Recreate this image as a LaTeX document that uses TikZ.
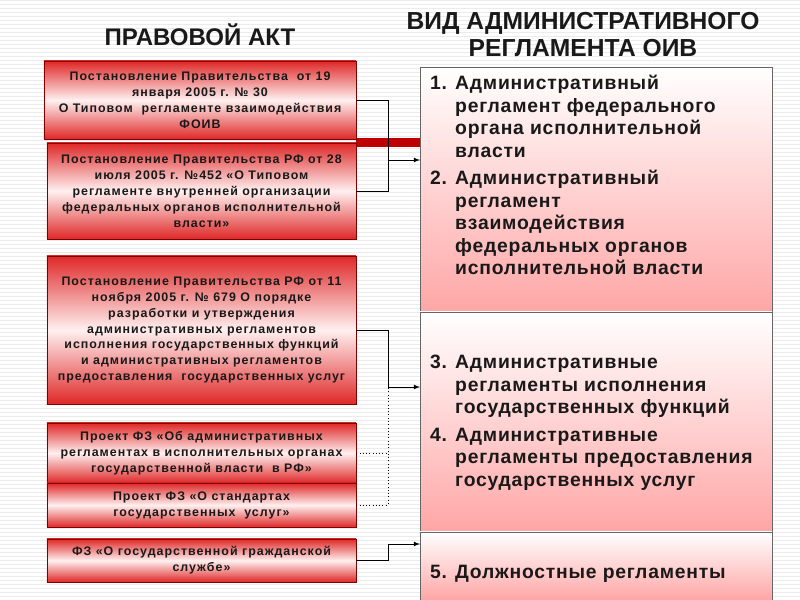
\documentclass[tikz,border=0pt]{standalone}
\usepackage{fontspec}
\setmainfont{Liberation Sans}
\pgfdeclareverticalshading{boxsh}{100bp}{color(0bp)=(red!85!black); color(20bp)=(red!85!black); color(50bp)=(red!6); color(80bp)=(red!85!black); color(100bp)=(red!85!black)}
\pgfdeclareverticalshading{panelsh}{100bp}{color(0bp)=(red!35); color(25bp)=(red!35); color(75bp)=(white); color(100bp)=(white)}
\begin{document}
\begin{tikzpicture}[x=0.03cm,y=-0.03cm,
 lbox/.style={draw=red!50!black,shading=boxsh,minimum width=9.27cm,font=\bfseries\fontsize{10.6}{13.6}\selectfont\addfontfeature{LetterSpace=8},align=center,text=black!90,inner sep=1pt},
 rtext/.style={font=\bfseries\fontsize{16.5}{19.2}\selectfont\addfontfeature{LetterSpace=4},align=left,text=black!90,anchor=north west},
 panel/.style={draw=black!60,shading=panelsh},
 con/.style={thick,black},
 dcon/.style={thick,black,dotted},
 arr/.style={thick,black,-latex}]
\useasboundingbox (0,0) rectangle (800,600);
\fill[white] (0,0) rectangle (800,600);
\foreach \yy in {0,4,...,600} \draw[black!8,line width=0.3pt] (0,\yy) -- (800,\yy);
\node[font=\bfseries\fontsize{20.5}{24}\selectfont,text=black!90] (t1) at (200,35) {ПРАВОВОЙ АКТ};
\node[font=\bfseries\fontsize{21}{23}\selectfont,align=center,text=black!90] (t2) at (583,35) {ВИД АДМИНИСТРАТИВНОГО\\РЕГЛАМЕНТА ОИВ};
% right panel
\path[panel] (420,67) rectangle (772,312);
\path[panel] (420,312) rectangle (772,532);
\path[panel] (420,532) rectangle (772,600);
\node[rtext] (r1) at (426,71) {1. Административный\\\phantom{1. }регламент федерального\\\phantom{1. }органа исполнительной\\\phantom{1. }власти};
\node[rtext] (r2) at (426,166) {2. Административный\\\phantom{2. }регламент\\\phantom{2. }взаимодействия\\\phantom{2. }федеральных органов\\\phantom{2. }исполнительной власти};
\node[rtext] (r3) at (426,351) {3. Административные\\\phantom{3. }регламенты исполнения\\\phantom{3. }государственных функций};
\node[rtext] (r4) at (426,424) {4. Административные\\\phantom{4. }регламенты предоставления\\\phantom{4. }государственных услуг};
\node[rtext] (r5) at (426,561) {5. Должностные регламенты};
% red bar
\fill[red!75!black] (356,138) rectangle (420,147);
% left boxes
\node[lbox,minimum width=9.36cm,minimum height=2.34cm] (b1) at (200,100) {Постановление Правительства \ от 19\\января 2005 г. № 30\\О Типовом \ регламенте взаимодействия\\ФОИВ};
\node[lbox,minimum height=2.88cm] (b2) at (201.5,191) {Постановление Правительства РФ от 28\\июля 2005 г. №452 «О Типовом\\регламенте внутренней организации\\федеральных органов исполнительной\\власти»};
\node[lbox,minimum height=4.44cm] (b3) at (201.5,330) {Постановление Правительства РФ от 11\\ноября 2005 г. № 679 О порядке\\разработки и утверждения\\административных регламентов\\исполнения государственных функций\\и административных регламентов\\предоставления \ государственных услуг};
\node[lbox,minimum height=1.8cm] (b4) at (201.5,453) {Проект ФЗ «Об административных\\регламентах в исполнительных органах\\государственной власти \ в РФ»};
\node[lbox,minimum height=1.32cm] (b5) at (201.5,505) {Проект ФЗ «О стандартах\\государственных \ услуг»};
\node[lbox,minimum height=1.29cm] (b6) at (201.5,560.5) {ФЗ «О государственной гражданской\\службе»};
% connectors
\coordinate (j1) at (388,160);
\draw[con] (b1.east) -- (b1.east -| j1) |- (b2.east);
\draw[arr] (j1) -- (420,160);
\coordinate (j2) at (388,387);
\draw[con] (b3.east) -- (b3.east -| j2) -- (j2);
\draw[dcon] (b4.east) -- (b4.east -| j2);
\draw[dcon] (b5.east) -| (j2);
\draw[arr] (j2) -- (420,387);
\coordinate (j3) at (388,544);
\draw[con] (b6.east) -| (j3);
\draw[arr] (j3) -- (420,544);
\end{tikzpicture}
\end{document}
